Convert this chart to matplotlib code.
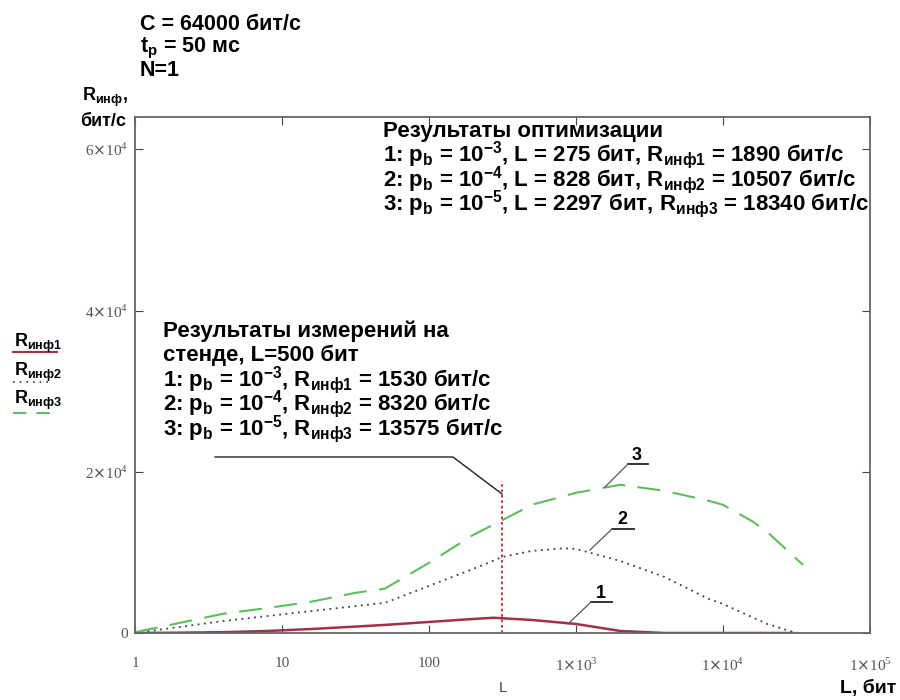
import numpy as np
import matplotlib
matplotlib.use('Agg')
import matplotlib.pyplot as plt
from matplotlib.lines import Line2D

plt.rcParams['font.family'] = ['Liberation Sans', 'DejaVu Sans']

# curve 3: p_b = 1e-5
L3 = [1, 2, 4, 8, 16, 32, 50, 100, 200, 316, 500, 1000, 2000, 4000, 8000, 10000, 16000, 20000, 30000, 35000]
R3 = [100, 1240, 2400, 3100, 3900, 5000, 5500, 8700, 12170, 14000, 15900, 17390, 18380, 17640, 16400, 15900, 13800, 12540, 9560, 8450]
# curve 2: p_b = 1e-4
L2 = [1, 2, 4, 8, 16, 32, 50, 100, 200, 316, 500, 828, 1000, 2000, 4000, 8000, 10000, 20000, 30000, 33000]
R2 = [0, 745, 1490, 2110, 2730, 3350, 3730, 5840, 7950, 9440, 10180, 10507, 10430, 8940, 6950, 4220, 3600, 1120, 120, 0]
# curve 1: p_b = 1e-3
L1 = [1, 2, 4, 8, 16, 32, 50, 100, 200, 275, 500, 1000, 2000, 4000, 30000]
R1 = [0, 40, 100, 250, 500, 800, 1000, 1370, 1740, 1890, 1620, 1120, 250, 0, 0]

L_stand = 316
R_stand_top = 18800

x_ticks = [1, 10, 100, 1e3, 1e4, 1e5]
x_labels = ['1', '10', '100', r'1$\times$10$^{\mathdefault{3}}$',
            r'1$\times$10$^{\mathdefault{4}}$', r'1$\times$10$^{\mathdefault{5}}$']
y_ticks = [0, 2e4, 4e4, 6e4]
y_labels = ['0', r'2$\times$10$^{\mathdefault{4}}$', r'4$\times$10$^{\mathdefault{4}}$',
            r'6$\times$10$^{\mathdefault{4}}$']

W, H = 900, 700
fig = plt.figure(figsize=(9, 7), dpi=100)
ax = fig.add_axes([135 / W, 1 - 633 / H, 735 / W, 516 / H])

c1 = '#a33045'
c2 = '#3a3a5c'
c3 = '#5cbf5c'

ax.plot(L1, R1, color=c1, lw=1.8)
ax.plot(L2, R2, color=c2, lw=1.3, ls=(0, (1, 2.5)))
ax.plot(L3, R3, color=c3, lw=1.5, ls=(0, (11, 6)))
ax.plot([L_stand, L_stand], [0, R_stand_top], color='#dd2222', lw=1.3, ls=(0, (1.5, 1.5)))

ax.set_xscale('log')
ax.set_xlim(1, 1e5)
ax.set_ylim(0, 64000)
ax.set_xticks(x_ticks)
ax.set_xticklabels(x_labels)
ax.set_yticks(y_ticks)
ax.set_yticklabels(y_labels)
ax.minorticks_off()
ax.tick_params(direction='in', length=6, color='#444', top=True, right=True,
               labelsize=11, labelcolor='#555')
ax.tick_params(axis='x', pad=17)
ax.tick_params(axis='y', pad=5)
for lab in ax.get_xticklabels() + ax.get_yticklabels():
    lab.set_family('Liberation Serif')
for s in ax.spines.values():
    s.set_color('#666')
    s.set_linewidth(1.3)


def ftext(x, y, s, **kw):
    kw.setdefault('fontsize', 16)
    kw.setdefault('fontweight', 'bold')
    kw.setdefault('va', 'center')
    fig.text(x / W, 1 - y / H, s, **kw)


def fline(xs, ys, **kw):
    kw.setdefault('color', '#333')
    kw.setdefault('lw', 1.0)
    fig.add_artist(Line2D([x / W for x in xs], [1 - y / H for y in ys],
                          transform=fig.transFigure, **kw))


sub = lambda s: r'$_{\mathdefault{%s}}$' % s
sup = lambda s: r'$^{\mathdefault{%s}}$' % s

# header parameters
ftext(140, 24, 'C = 64000 бит/с', fontsize=15.5)
ftext(140, 48, 't' + sub('р') + ' = 50 мс', fontsize=15.5)
ftext(140, 71, 'N=1', fontsize=15.5)

# y axis title
ftext(82, 97, 'R' + sub('инф') + ',', fontsize=13)
ftext(80, 121, 'бит/с', fontsize=13)

# legend on the left
ftext(14, 343, 'R' + sub('инф1'), fontsize=13)
fline([13, 57], [352, 352], color=c1, lw=1.5)
ftext(14, 372, 'R' + sub('инф2'), fontsize=13)
fline([13, 48], [382, 382], color=c2, lw=1.2, ls=(0, (1, 3)))
ftext(14, 400, 'R' + sub('инф3'), fontsize=13)
fline([13, 58], [413, 413], color=c3, lw=1.4, ls=(0, (7, 5)))

# optimization results
opt_lines = [
    'Результаты оптимизации',
    '1: p' + sub('b') + ' = 10' + sup('-3') + ', L = 275 бит, R' + sub('инф1') + ' = 1890 бит/с',
    '2: p' + sub('b') + ' = 10' + sup('-4') + ', L = 828 бит, R' + sub('инф2') + ' = 10507 бит/с',
    '3: p' + sub('b') + ' = 10' + sup('-5') + ', L = 2297 бит, R' + sub('инф3') + ' = 18340 бит/с',
]
for i, s in enumerate(opt_lines):
    ftext(383, 131 + 24.5 * i, s)

# measurement results
meas_lines = [
    'Результаты измерений на',
    'стенде, L=500 бит',
    '1: p' + sub('b') + ' = 10' + sup('-3') + ', R' + sub('инф1') + ' = 1530 бит/с',
    '2: p' + sub('b') + ' = 10' + sup('-4') + ', R' + sub('инф2') + ' = 8320 бит/с',
    '3: p' + sub('b') + ' = 10' + sup('-5') + ', R' + sub('инф3') + ' = 13575 бит/с',
]
for i, s in enumerate(meas_lines):
    ftext(163, 331 + 24.5 * i, s)
fline([215, 453, 502], [457, 457, 494], color='#222', lw=1.0)

# curve labels
ftext(637, 455, '3', ha='center', fontsize=13)
fline([628, 648], [464, 464], color='#222', lw=1.3)
fline([628, 605], [464, 487], color='#555', lw=0.9)
ftext(622, 520, '2', ha='center', fontsize=13)
fline([612, 634], [529, 529], color='#222', lw=1.3)
fline([612, 590], [529, 550], color='#555', lw=0.9)
ftext(601, 593, '1', ha='center', fontsize=13)
fline([591, 612], [602, 602], color='#222', lw=1.3)
fline([591, 568], [602, 624], color='#555', lw=0.9)

# axis titles at the bottom
ftext(503, 688, 'L', ha='center', fontweight='normal', fontsize=11, color='#444')
ftext(868, 688, 'L, бит', ha='center', fontsize=14)

fig.savefig('out.png', dpi=100)
